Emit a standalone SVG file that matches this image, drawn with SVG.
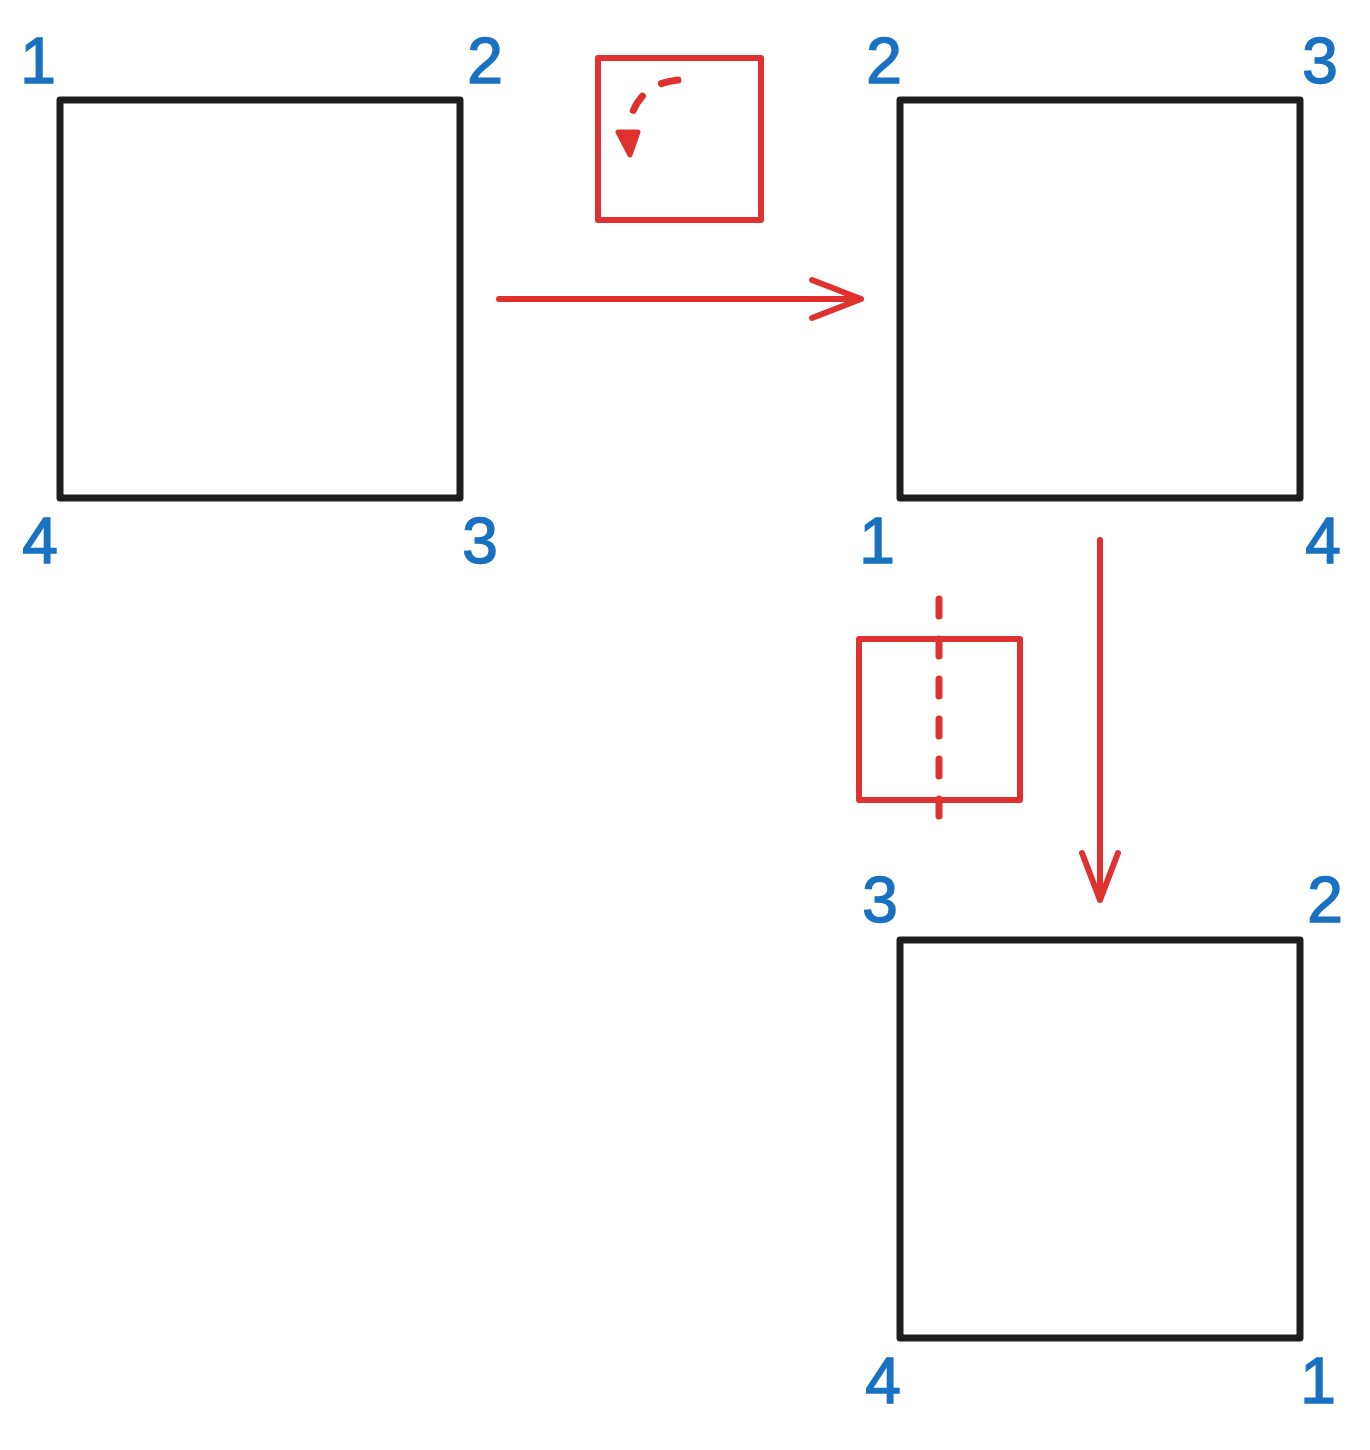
<svg xmlns="http://www.w3.org/2000/svg" width="1370" height="1450" viewBox="0 0 1370 1450">
<style>
.sq{fill:none;stroke:#1e1e1e;stroke-width:7;stroke-linejoin:round}
.rb{fill:none;stroke:#e03131;stroke-width:6;stroke-linejoin:round}
.ar{fill:none;stroke:#e03131;stroke-width:6;stroke-linecap:round;stroke-linejoin:round}
.dash{fill:none;stroke:#e03131;stroke-width:7;stroke-linecap:round;stroke-dasharray:17 23}
.lb{font-family:"Liberation Sans",Arial,sans-serif;font-size:64px;fill:#1971c2;text-anchor:middle;stroke:#1971c2;stroke-width:1.5}
</style>
<rect width="1370" height="1450" fill="#ffffff"/>
<g id="square-1">
<rect class="sq" x="60" y="100" width="400" height="398"/>
<text class="lb" x="38" y="83">1</text>
<text class="lb" x="485" y="83">2</text>
<text class="lb" x="40" y="563">4</text>
<text class="lb" x="480" y="563">3</text>
</g>
<g id="square-2">
<rect class="sq" x="900" y="100" width="400" height="398"/>
<text class="lb" x="884" y="83">2</text>
<text class="lb" x="1320" y="83">3</text>
<text class="lb" x="877" y="563">1</text>
<text class="lb" x="1323" y="563">4</text>
</g>
<g id="square-3">
<rect class="sq" x="900" y="940" width="400" height="398"/>
<text class="lb" x="880" y="922">3</text>
<text class="lb" x="1325" y="922">2</text>
<text class="lb" x="883" y="1403">4</text>
<text class="lb" x="1318" y="1403">1</text>
</g>
<g id="rotate-icon">
<rect class="rb" x="598" y="58" width="163" height="162"/>
<path class="dash" d="M678,80 Q636,84 628,128" stroke-dasharray="14 22"/>
<path d="M618,132 L638,132 L630,155 Z" fill="#e03131" stroke="#e03131" stroke-width="5" stroke-linejoin="round"/>
</g>
<g id="flip-icon">
<rect class="rb" x="859" y="639" width="161" height="161"/>
<line class="dash" x1="939" y1="599" x2="939" y2="817"/>
</g>
<g id="connectors">
<path class="ar" d="M499,299 L861,299 M812,280 L861,299 L812,318"/>
<path class="ar" d="M1100,540 L1100,900 M1082,853 L1100,900 L1118,853"/>
</g>
</svg>
